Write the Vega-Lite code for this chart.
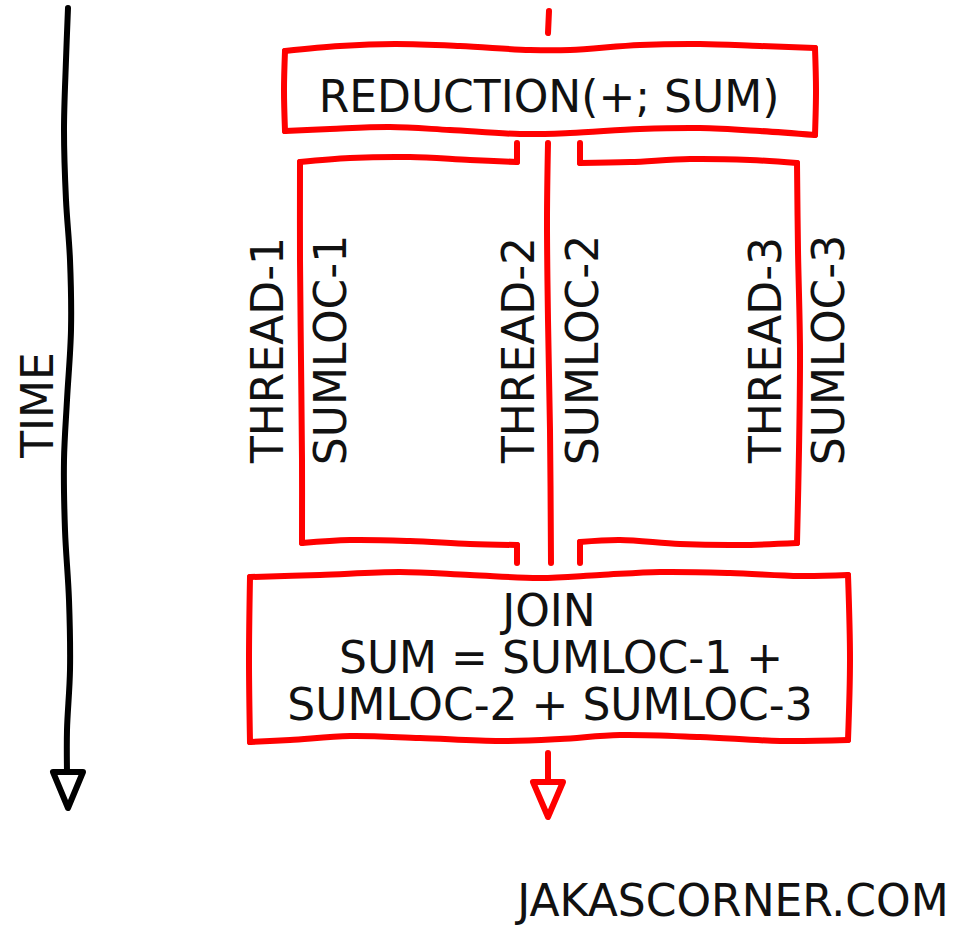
{
  "$schema": "https://vega.github.io/schema/vega-lite/v6.json",
  "width": 971,
  "height": 926,
  "autosize": {"type": "fit", "contains": "padding"},
  "padding": 0,
  "background": "white",
  "config": {"view": {"stroke": null}},
  "datasets": {
    "paths": [
      {"path": "time", "group": "time", "o": 0, "x": 68, "y": 8},
      {"path": "time", "group": "time", "o": 1, "x": 66, "y": 60},
      {"path": "time", "group": "time", "o": 2, "x": 64, "y": 130},
      {"path": "time", "group": "time", "o": 3, "x": 66, "y": 200},
      {"path": "time", "group": "time", "o": 4, "x": 70, "y": 260},
      {"path": "time", "group": "time", "o": 5, "x": 71, "y": 330},
      {"path": "time", "group": "time", "o": 6, "x": 67, "y": 400},
      {"path": "time", "group": "time", "o": 7, "x": 64, "y": 460},
      {"path": "time", "group": "time", "o": 8, "x": 65, "y": 530},
      {"path": "time", "group": "time", "o": 9, "x": 69, "y": 600},
      {"path": "time", "group": "time", "o": 10, "x": 70, "y": 670},
      {"path": "time", "group": "time", "o": 11, "x": 67, "y": 730},
      {"path": "time", "group": "time", "o": 12, "x": 67, "y": 772},

      {"path": "topdash", "group": "flow", "o": 0, "x": 549, "y": 11},
      {"path": "topdash", "group": "flow", "o": 1, "x": 548, "y": 33},

      {"path": "tb_top", "group": "flow", "o": 0, "x": 285, "y": 51},
      {"path": "tb_top", "group": "flow", "o": 1, "x": 340, "y": 46},
      {"path": "tb_top", "group": "flow", "o": 2, "x": 395, "y": 44},
      {"path": "tb_top", "group": "flow", "o": 3, "x": 460, "y": 46},
      {"path": "tb_top", "group": "flow", "o": 4, "x": 530, "y": 50},
      {"path": "tb_top", "group": "flow", "o": 5, "x": 570, "y": 50},
      {"path": "tb_top", "group": "flow", "o": 6, "x": 640, "y": 45},
      {"path": "tb_top", "group": "flow", "o": 7, "x": 700, "y": 44},
      {"path": "tb_top", "group": "flow", "o": 8, "x": 760, "y": 46},
      {"path": "tb_top", "group": "flow", "o": 9, "x": 815, "y": 48},
      {"path": "tb_right", "group": "flow", "o": 0, "x": 815, "y": 48},
      {"path": "tb_right", "group": "flow", "o": 1, "x": 816, "y": 90},
      {"path": "tb_right", "group": "flow", "o": 2, "x": 815, "y": 135},
      {"path": "tb_bottom", "group": "flow", "o": 0, "x": 815, "y": 135},
      {"path": "tb_bottom", "group": "flow", "o": 1, "x": 760, "y": 131},
      {"path": "tb_bottom", "group": "flow", "o": 2, "x": 700, "y": 128},
      {"path": "tb_bottom", "group": "flow", "o": 3, "x": 640, "y": 129},
      {"path": "tb_bottom", "group": "flow", "o": 4, "x": 570, "y": 133},
      {"path": "tb_bottom", "group": "flow", "o": 5, "x": 520, "y": 134},
      {"path": "tb_bottom", "group": "flow", "o": 6, "x": 450, "y": 130},
      {"path": "tb_bottom", "group": "flow", "o": 7, "x": 390, "y": 127},
      {"path": "tb_bottom", "group": "flow", "o": 8, "x": 330, "y": 129},
      {"path": "tb_bottom", "group": "flow", "o": 9, "x": 285, "y": 131},
      {"path": "tb_left", "group": "flow", "o": 0, "x": 285, "y": 131},
      {"path": "tb_left", "group": "flow", "o": 1, "x": 284, "y": 90},
      {"path": "tb_left", "group": "flow", "o": 2, "x": 285, "y": 51},

      {"path": "lb_stub_top", "group": "flow", "o": 0, "x": 517, "y": 143},
      {"path": "lb_stub_top", "group": "flow", "o": 1, "x": 517, "y": 162},
      {"path": "lb_top", "group": "flow", "o": 0, "x": 517, "y": 162},
      {"path": "lb_top", "group": "flow", "o": 1, "x": 470, "y": 160},
      {"path": "lb_top", "group": "flow", "o": 2, "x": 410, "y": 157},
      {"path": "lb_top", "group": "flow", "o": 3, "x": 350, "y": 158},
      {"path": "lb_top", "group": "flow", "o": 4, "x": 300, "y": 162},
      {"path": "lb_left", "group": "flow", "o": 0, "x": 300, "y": 162},
      {"path": "lb_left", "group": "flow", "o": 1, "x": 300, "y": 260},
      {"path": "lb_left", "group": "flow", "o": 2, "x": 301, "y": 360},
      {"path": "lb_left", "group": "flow", "o": 3, "x": 302, "y": 460},
      {"path": "lb_left", "group": "flow", "o": 4, "x": 302, "y": 543},
      {"path": "lb_bottom", "group": "flow", "o": 0, "x": 302, "y": 543},
      {"path": "lb_bottom", "group": "flow", "o": 1, "x": 350, "y": 540},
      {"path": "lb_bottom", "group": "flow", "o": 2, "x": 410, "y": 541},
      {"path": "lb_bottom", "group": "flow", "o": 3, "x": 470, "y": 544},
      {"path": "lb_bottom", "group": "flow", "o": 4, "x": 517, "y": 545},
      {"path": "lb_stub_bot", "group": "flow", "o": 0, "x": 517, "y": 545},
      {"path": "lb_stub_bot", "group": "flow", "o": 1, "x": 517, "y": 563},

      {"path": "mid", "group": "flow", "o": 0, "x": 548, "y": 143},
      {"path": "mid", "group": "flow", "o": 1, "x": 547, "y": 220},
      {"path": "mid", "group": "flow", "o": 2, "x": 548, "y": 320},
      {"path": "mid", "group": "flow", "o": 3, "x": 550, "y": 430},
      {"path": "mid", "group": "flow", "o": 4, "x": 551, "y": 563},

      {"path": "rb_stub_top", "group": "flow", "o": 0, "x": 580, "y": 143},
      {"path": "rb_stub_top", "group": "flow", "o": 1, "x": 580, "y": 163},
      {"path": "rb_top", "group": "flow", "o": 0, "x": 580, "y": 163},
      {"path": "rb_top", "group": "flow", "o": 1, "x": 630, "y": 162},
      {"path": "rb_top", "group": "flow", "o": 2, "x": 690, "y": 159},
      {"path": "rb_top", "group": "flow", "o": 3, "x": 750, "y": 160},
      {"path": "rb_top", "group": "flow", "o": 4, "x": 797, "y": 163},
      {"path": "rb_right", "group": "flow", "o": 0, "x": 797, "y": 163},
      {"path": "rb_right", "group": "flow", "o": 1, "x": 798, "y": 250},
      {"path": "rb_right", "group": "flow", "o": 2, "x": 800, "y": 350},
      {"path": "rb_right", "group": "flow", "o": 3, "x": 799, "y": 450},
      {"path": "rb_right", "group": "flow", "o": 4, "x": 797, "y": 543},
      {"path": "rb_bottom", "group": "flow", "o": 0, "x": 797, "y": 543},
      {"path": "rb_bottom", "group": "flow", "o": 1, "x": 740, "y": 545},
      {"path": "rb_bottom", "group": "flow", "o": 2, "x": 680, "y": 544},
      {"path": "rb_bottom", "group": "flow", "o": 3, "x": 620, "y": 540},
      {"path": "rb_bottom", "group": "flow", "o": 4, "x": 580, "y": 542},
      {"path": "rb_stub_bot", "group": "flow", "o": 0, "x": 580, "y": 542},
      {"path": "rb_stub_bot", "group": "flow", "o": 1, "x": 580, "y": 563},

      {"path": "bb_top", "group": "flow", "o": 0, "x": 250, "y": 577},
      {"path": "bb_top", "group": "flow", "o": 1, "x": 320, "y": 575},
      {"path": "bb_top", "group": "flow", "o": 2, "x": 400, "y": 572},
      {"path": "bb_top", "group": "flow", "o": 3, "x": 470, "y": 575},
      {"path": "bb_top", "group": "flow", "o": 4, "x": 540, "y": 578},
      {"path": "bb_top", "group": "flow", "o": 5, "x": 600, "y": 575},
      {"path": "bb_top", "group": "flow", "o": 6, "x": 660, "y": 572},
      {"path": "bb_top", "group": "flow", "o": 7, "x": 730, "y": 573},
      {"path": "bb_top", "group": "flow", "o": 8, "x": 800, "y": 576},
      {"path": "bb_top", "group": "flow", "o": 9, "x": 848, "y": 575},
      {"path": "bb_right", "group": "flow", "o": 0, "x": 848, "y": 575},
      {"path": "bb_right", "group": "flow", "o": 1, "x": 850, "y": 660},
      {"path": "bb_right", "group": "flow", "o": 2, "x": 848, "y": 740},
      {"path": "bb_bottom", "group": "flow", "o": 0, "x": 848, "y": 740},
      {"path": "bb_bottom", "group": "flow", "o": 1, "x": 780, "y": 741},
      {"path": "bb_bottom", "group": "flow", "o": 2, "x": 700, "y": 737},
      {"path": "bb_bottom", "group": "flow", "o": 3, "x": 620, "y": 735},
      {"path": "bb_bottom", "group": "flow", "o": 4, "x": 560, "y": 739},
      {"path": "bb_bottom", "group": "flow", "o": 5, "x": 500, "y": 741},
      {"path": "bb_bottom", "group": "flow", "o": 6, "x": 420, "y": 738},
      {"path": "bb_bottom", "group": "flow", "o": 7, "x": 350, "y": 736},
      {"path": "bb_bottom", "group": "flow", "o": 8, "x": 290, "y": 740},
      {"path": "bb_bottom", "group": "flow", "o": 9, "x": 250, "y": 742},
      {"path": "bb_left", "group": "flow", "o": 0, "x": 250, "y": 742},
      {"path": "bb_left", "group": "flow", "o": 1, "x": 249, "y": 660},
      {"path": "bb_left", "group": "flow", "o": 2, "x": 250, "y": 577},

      {"path": "stem", "group": "flow", "o": 0, "x": 548, "y": 753},
      {"path": "stem", "group": "flow", "o": 1, "x": 548, "y": 781}
    ],
    "heads": [
      {"path": "time_head", "group": "time", "o": 0, "x": 53, "y": 772},
      {"path": "time_head", "group": "time", "o": 1, "x": 83, "y": 772},
      {"path": "time_head", "group": "time", "o": 2, "x": 68, "y": 808},
      {"path": "time_head", "group": "time", "o": 3, "x": 53, "y": 772},
      {"path": "flow_head", "group": "flow", "o": 0, "x": 533, "y": 782},
      {"path": "flow_head", "group": "flow", "o": 1, "x": 563, "y": 782},
      {"path": "flow_head", "group": "flow", "o": 2, "x": 548, "y": 817},
      {"path": "flow_head", "group": "flow", "o": 3, "x": 533, "y": 782}
    ],
    "labels": [
      {"role": "title", "text": "REDUCTION(+; SUM)", "x": 549, "y": 96},
      {"role": "join", "text": "JOIN", "x": 549, "y": 610},
      {"role": "join", "text": "SUM = SUMLOC-1 +", "x": 561, "y": 657},
      {"role": "join", "text": "SUMLOC-2 + SUMLOC-3", "x": 550, "y": 704},
      {"role": "credit", "text": "JAKASCORNER.COM", "x": 733, "y": 903},
      {"role": "thread", "text": "THREAD-1", "x": 267, "y": 350},
      {"role": "thread", "text": "SUMLOC-1", "x": 330, "y": 350},
      {"role": "thread", "text": "THREAD-2", "x": 518, "y": 350},
      {"role": "thread", "text": "SUMLOC-2", "x": 582, "y": 350},
      {"role": "thread", "text": "THREAD-3", "x": 765, "y": 350},
      {"role": "thread", "text": "SUMLOC-3", "x": 828, "y": 350},
      {"role": "time", "text": "TIME", "x": 37, "y": 405}
    ]
  },
  "encoding": {
    "x": {"field": "x", "type": "quantitative", "scale": {"domain": [0, 971], "nice": false, "zero": false}, "axis": null},
    "y": {"field": "y", "type": "quantitative", "scale": {"domain": [0, 926], "nice": false, "zero": false, "reverse": true}, "axis": null}
  },
  "layer": [
    {
      "data": {"name": "paths"},
      "mark": {"type": "line", "interpolate": "catmull-rom", "strokeWidth": 6, "strokeCap": "round", "strokeJoin": "round"},
      "encoding": {
        "detail": {"field": "path", "type": "nominal"},
        "order": {"field": "o", "type": "quantitative"},
        "color": {"field": "group", "type": "nominal", "scale": {"domain": ["flow", "time"], "range": ["#ff0000", "#000000"]}, "legend": null}
      }
    },
    {
      "data": {"name": "heads"},
      "mark": {"type": "line", "interpolate": "linear", "strokeWidth": 6, "strokeCap": "round", "strokeJoin": "round"},
      "encoding": {
        "detail": {"field": "path", "type": "nominal"},
        "order": {"field": "o", "type": "quantitative"},
        "color": {"field": "group", "type": "nominal", "scale": {"domain": ["flow", "time"], "range": ["#ff0000", "#000000"]}, "legend": null}
      }
    },
    {
      "data": {"name": "labels"},
      "transform": [{"filter": "datum.role === 'title'"}],
      "mark": {"type": "text", "font": "DejaVu Sans", "fontSize": 44, "align": "center", "baseline": "middle", "color": "#111111", "dy": 3},
      "encoding": {"text": {"field": "text", "type": "nominal"}}
    },
    {
      "data": {"name": "labels"},
      "transform": [{"filter": "datum.role === 'join'"}],
      "mark": {"type": "text", "font": "DejaVu Sans", "fontSize": 44, "align": "center", "baseline": "middle", "color": "#111111", "dy": 3},
      "encoding": {"text": {"field": "text", "type": "nominal"}}
    },
    {
      "data": {"name": "labels"},
      "transform": [{"filter": "datum.role === 'credit'"}],
      "mark": {"type": "text", "font": "DejaVu Sans", "fontSize": 44, "align": "center", "baseline": "middle", "color": "#111111"},
      "encoding": {"text": {"field": "text", "type": "nominal"}}
    },
    {
      "data": {"name": "labels"},
      "transform": [{"filter": "datum.role === 'thread' || datum.role === 'time'"}],
      "mark": {"type": "text", "font": "DejaVu Sans", "fontSize": 44, "align": "center", "baseline": "middle", "angle": 270, "color": "#111111", "dy": 3},
      "encoding": {"text": {"field": "text", "type": "nominal"}}
    }
  ]
}
